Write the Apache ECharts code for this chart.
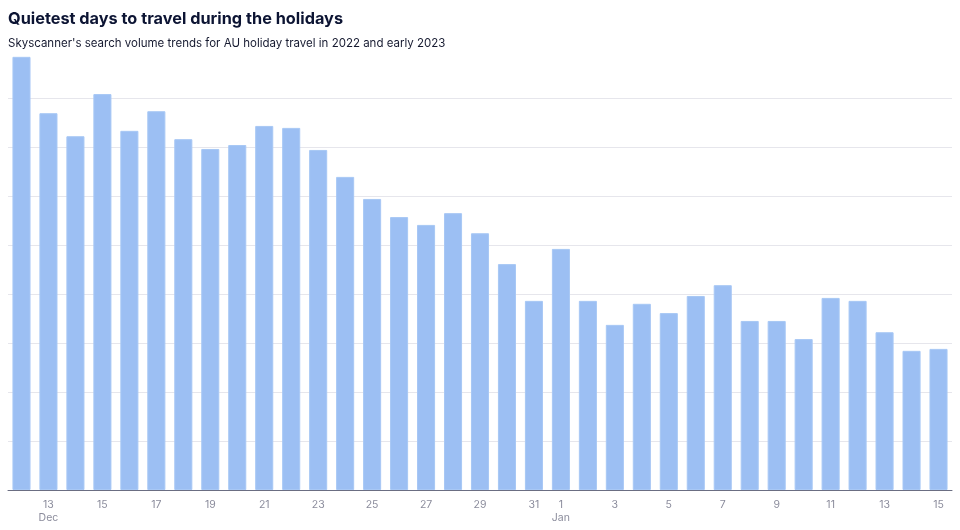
<!DOCTYPE html>
<html><head><meta charset="utf-8">
<script src="https://cdn.jsdelivr.net/npm/echarts@6/dist/echarts.min.js"></script>
<style>html,body{margin:0;padding:0;background:#fff}#c{width:960px;height:530px}</style>
</head><body><div id="c"></div>
<script>
const title = "Quietest days to travel during the holidays";
const subtitle = "Skyscanner's search volume trends for AU holiday travel in 2022 and early 2023";
const days = ["Dec 12","Dec 13","Dec 14","Dec 15","Dec 16","Dec 17","Dec 18","Dec 19","Dec 20","Dec 21","Dec 22","Dec 23","Dec 24","Dec 25","Dec 26","Dec 27","Dec 28","Dec 29","Dec 30","Dec 31",
  "Jan 1","Jan 2","Jan 3","Jan 4","Jan 5","Jan 6","Jan 7","Jan 8","Jan 9","Jan 10","Jan 11","Jan 12","Jan 13","Jan 14","Jan 15"];
const searchVolume = [8.84,7.69,7.22,8.08,7.33,7.73,7.16,6.96,7.04,7.43,7.39,6.94,6.39,5.94,5.57,5.41,5.65,5.24,4.61,3.86,
  4.92,3.86,3.37,3.80,3.61,3.96,4.18,3.45,3.45,3.08,3.92,3.86,3.22,2.84,2.88];
const labelledDays = ["Dec 13","Dec 15","Dec 17","Dec 19","Dec 21","Dec 23","Dec 25","Dec 27","Dec 29","Dec 31",
  "Jan 1","Jan 3","Jan 5","Jan 7","Jan 9","Jan 11","Jan 13","Jan 15"];
const monthStarts = {"Dec 13":"Dec","Jan 1":"Jan"};

const showIdx = (i, v) => labelledDays.indexOf(v) >= 0;
const chart = echarts.init(document.getElementById('c'));
const font = 'Inter, "Noto Sans", sans-serif';
chart.setOption({
  animation: false,
  textStyle: {fontFamily: font},
  title: [
    {text: title, left: 8, top: 11, padding: 0, textStyle: {fontFamily: font, fontSize: 16.3, fontWeight: 'bold', color: '#0c1433'}},
    {text: subtitle, left: 8, top: 38, padding: 0, textStyle: {fontFamily: font, fontSize: 11.5, fontWeight: 'normal', color: '#161a30'}}
  ],
  grid: {left: 8, right: 8, top: 49, bottom: 40, containLabel: false},
  xAxis: {
    type: 'category', data: days,
    axisLine: {lineStyle: {color: '#6b6e82', width: 1}},
    axisTick: {alignWithLabel: true, interval: showIdx, length: 4, lineStyle: {color: '#6b6e82'}},
    axisLabel: {interval: showIdx, color: '#8b8c9c', fontSize: 10.5, margin: 8, lineHeight: 13,
      formatter: v => { const d = v.split(' ')[1]; return monthStarts[v] ? d + '\n' + monthStarts[v] : d; }}
  },
  yAxis: {
    type: 'value', min: 0, max: 9, interval: 1,
    axisLine: {show: false}, axisTick: {show: false}, axisLabel: {show: false},
    splitLine: {lineStyle: {color: ['#e6e6ec','#e6e6ec','#e6e6ec','#e6e6ec','#e6e6ec','#e6e6ec','#e6e6ec','#e6e6ec','#e6e6ec','rgba(0,0,0,0)'], width: 1}}
  },
  series: [{
    type: 'bar', data: searchVolume, barCategoryGap: '33%',
    itemStyle: {color: '#9cbff3', borderColor: '#a8c8f5', borderWidth: 1}
  }]
});
</script></body></html>
